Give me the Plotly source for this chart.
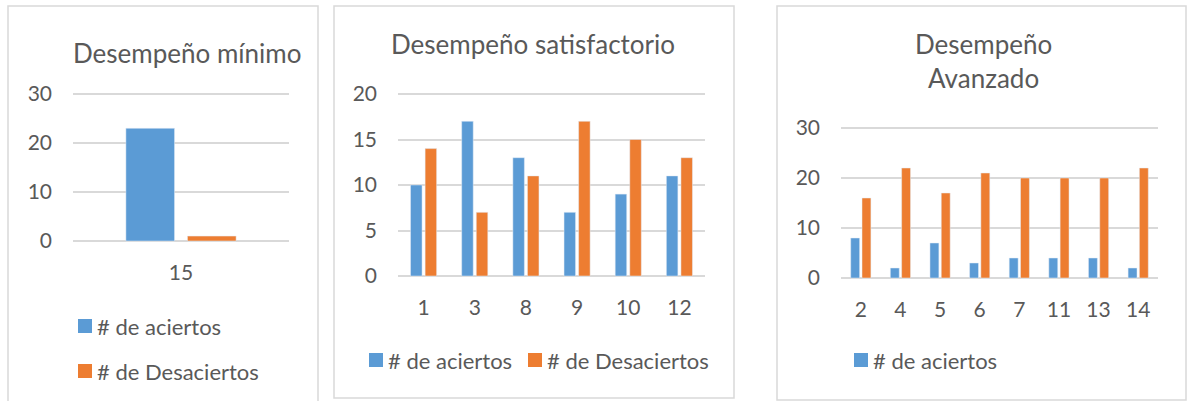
import plotly.graph_objects as go

W, H = 1187, 401

# Desempeño mínimo
min_cats = ["15"]
min_aciertos = [23]
min_desaciertos = [1]

# Desempeño satisfactorio
sat_cats = ["1", "3", "8", "9", "10", "12"]
sat_aciertos = [10, 17, 13, 7, 9, 11]
sat_desaciertos = [14, 7, 11, 17, 15, 13]

# Desempeño avanzado
adv_cats = ["2", "4", "5", "6", "7", "11", "13", "14"]
adv_aciertos = [8, 2, 7, 3, 4, 4, 4, 2]
adv_desaciertos = [16, 22, 17, 21, 20, 20, 20, 22]

HIT_NAME = "# de aciertos"
MISS_NAME = "# de Desaciertos"

BLUE = "#5B9BD5"
ORANGE = "#ED7D31"
TEXT = "#595959"
GRID = "#D9D9D9"
FONT = "Lato"


def fx(x):
    return x / W


def fy(y):
    return 1 - y / H


fig = go.Figure()

panels = [
    ("x", "y", min_cats, min_aciertos, min_desaciertos),
    ("x2", "y2", sat_cats, sat_aciertos, sat_desaciertos),
    ("x3", "y3", adv_cats, adv_aciertos, adv_desaciertos),
]
for xa, ya, cats, hits, misses in panels:
    fig.add_trace(go.Bar(x=cats, y=hits, name=HIT_NAME, marker_color=BLUE,
                         xaxis=xa, yaxis=ya, showlegend=False))
    fig.add_trace(go.Bar(x=cats, y=misses, name=MISS_NAME, marker_color=ORANGE,
                         xaxis=xa, yaxis=ya, showlegend=False))

axis_font = dict(family=FONT, size=21, color=TEXT)


def xaxis(left, right, anchor):
    return dict(domain=[fx(left), fx(right)], anchor=anchor, type="category",
                showgrid=False, zeroline=False, showline=False, ticks="",
                tickfont=axis_font, ticklabelstandoff=14, fixedrange=True)


def yaxis(top, bottom, anchor, vmax, step, pad=3):
    # pad the axis by a few pixels so the end gridlines are kept
    per_px = vmax / (bottom - top)
    return dict(domain=[fy(bottom + pad), fy(top - pad)], anchor=anchor,
                range=[-pad * per_px, vmax + pad * per_px], tick0=0, dtick=step,
                showgrid=True, gridcolor=GRID, gridwidth=1.5, zeroline=False,
                showline=False, ticks="", tickfont=axis_font, ticklabelstandoff=20,
                fixedrange=True)


fig.update_layout(
    width=W, height=H,
    margin=dict(l=0, r=0, t=0, b=0, pad=0, autoexpand=False),
    paper_bgcolor="white", plot_bgcolor="white",
    barmode="group", bargap=0.43, bargroupgap=0.21,
    font=dict(family=FONT, color=TEXT),
    xaxis=xaxis(73, 289, "y"),
    yaxis=yaxis(94, 241, "x", 30, 10),
    xaxis2=xaxis(398, 705, "y2"),
    yaxis2=yaxis(94, 276, "x2", 20, 5),
    xaxis3=xaxis(841, 1158, "y3"),
    yaxis3=yaxis(128, 278, "x3", 30, 10),
    showlegend=False,
)

# Chart titles
title_font = dict(family=FONT, size=26, color=TEXT)
fig.add_annotation(text="Desempeño mínimo", x=fx(187), y=fy(53), xref="paper", yref="paper",
                   showarrow=False, font=title_font, xanchor="center", yanchor="middle")
fig.add_annotation(text="Desempeño satisfactorio", x=fx(533), y=fy(44), xref="paper",
                   yref="paper", showarrow=False, font=title_font, xanchor="center",
                   yanchor="middle")
fig.add_annotation(text="Desempeño<br>Avanzado", x=fx(983), y=fy(61), xref="paper",
                   yref="paper", showarrow=False, font=title_font, xanchor="center",
                   yanchor="middle")

# Legend keys: (square left, centre y, colour, label)
legend_font = dict(family=FONT, size=22, color=TEXT)
keys = [
    (78, 326, BLUE, HIT_NAME),
    (78, 371, ORANGE, MISS_NAME),
    (369, 360, BLUE, HIT_NAME),
    (528, 360, ORANGE, MISS_NAME),
    (854, 360, BLUE, HIT_NAME),
]
for left, cy, color, label in keys:
    fig.add_shape(type="rect", xref="paper", yref="paper", x0=fx(left), x1=fx(left + 14),
                  y0=fy(cy + 7), y1=fy(cy - 7), line=dict(width=0), fillcolor=color)
    fig.add_annotation(text=label, x=fx(left + 18), y=fy(cy), xref="paper", yref="paper",
                       showarrow=False, font=legend_font, xanchor="left", yanchor="middle",
                       borderpad=0)

# Chart frames
for x0, x1, y0, y1 in [(8, 318, 6, 420), (334, 734, 6, 398), (777, 1186, 6, 400)]:
    fig.add_shape(type="rect", xref="paper", yref="paper", x0=fx(x0), x1=fx(x1),
                  y0=fy(y1), y1=fy(y0), line=dict(color=GRID, width=1.5),
                  fillcolor="rgba(0,0,0,0)", layer="below")

fig.write_html("out.html")
